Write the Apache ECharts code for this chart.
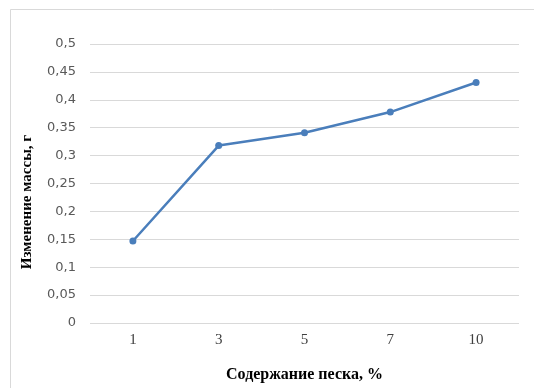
<!DOCTYPE html>
<html><head><meta charset="utf-8">
<script src="https://cdn.jsdelivr.net/npm/echarts@6/dist/echarts.min.js"></script>
<style>html,body{margin:0;padding:0;background:#fff;overflow:hidden}#c{width:534px;height:388px}</style>
</head><body><div id="c"></div>
<script>
const categories = ['1', '3', '5', '7', '10'];
const values = [0.147, 0.318, 0.341, 0.378, 0.431];
const yTicks = { min: 0, max: 0.5, interval: 0.05 };
const xName = 'Содержание песка, %';
const yName = 'Изменение массы, г';

const chart = echarts.init(document.getElementById('c'), null, { renderer: 'canvas' });
chart.setOption({
  animation: false,
  backgroundColor: '#fff',
  graphic: [{
    type: 'rect', left: 8, top: 7, silent: true,
    shape: { width: 540, height: 400 },
    style: { fill: 'none', stroke: '#d9d9d9', lineWidth: 1 }
  }, {
    type: 'text', x: 27, y: 202, rotation: Math.PI / 2, silent: true,
    style: {
      text: yName, fontFamily: 'Liberation Serif', fontWeight: 'bold', fontSize: 15,
      fill: '#000', align: 'center', verticalAlign: 'middle'
    }
  }],
  grid: { left: 90, right: 15, top: 44, bottom: 59, containLabel: false },
  xAxis: {
    type: 'category', data: categories, boundaryGap: true,
    axisLine: { show: false }, axisTick: { show: false },
    axisLabel: { color: '#404040', fontFamily: 'Liberation Serif', fontSize: 15, margin: 10 },
    name: xName, nameLocation: 'middle', nameGap: 44,
    nameTextStyle: { fontFamily: 'Liberation Serif', fontWeight: 'bold', fontSize: 16, color: '#000' }
  },
  yAxis: {
    type: 'value', min: yTicks.min, max: yTicks.max, interval: yTicks.interval,
    axisLine: { show: false }, axisTick: { show: false },
    splitLine: { lineStyle: { color: '#d9d9d9', width: 1 } },
    axisLabel: {
      color: '#595959', fontFamily: 'DejaVu Sans', fontSize: 13, margin: 14,
      formatter: v => String(+v.toFixed(2)).replace('.', ',')
    }
  },
  series: [{
    type: 'line', data: values,
    symbol: 'circle', symbolSize: 7,
    lineStyle: { color: '#4a7ebb', width: 2.5 },
    itemStyle: { color: '#4a7ebb' }
  }]
});
</script></body></html>
